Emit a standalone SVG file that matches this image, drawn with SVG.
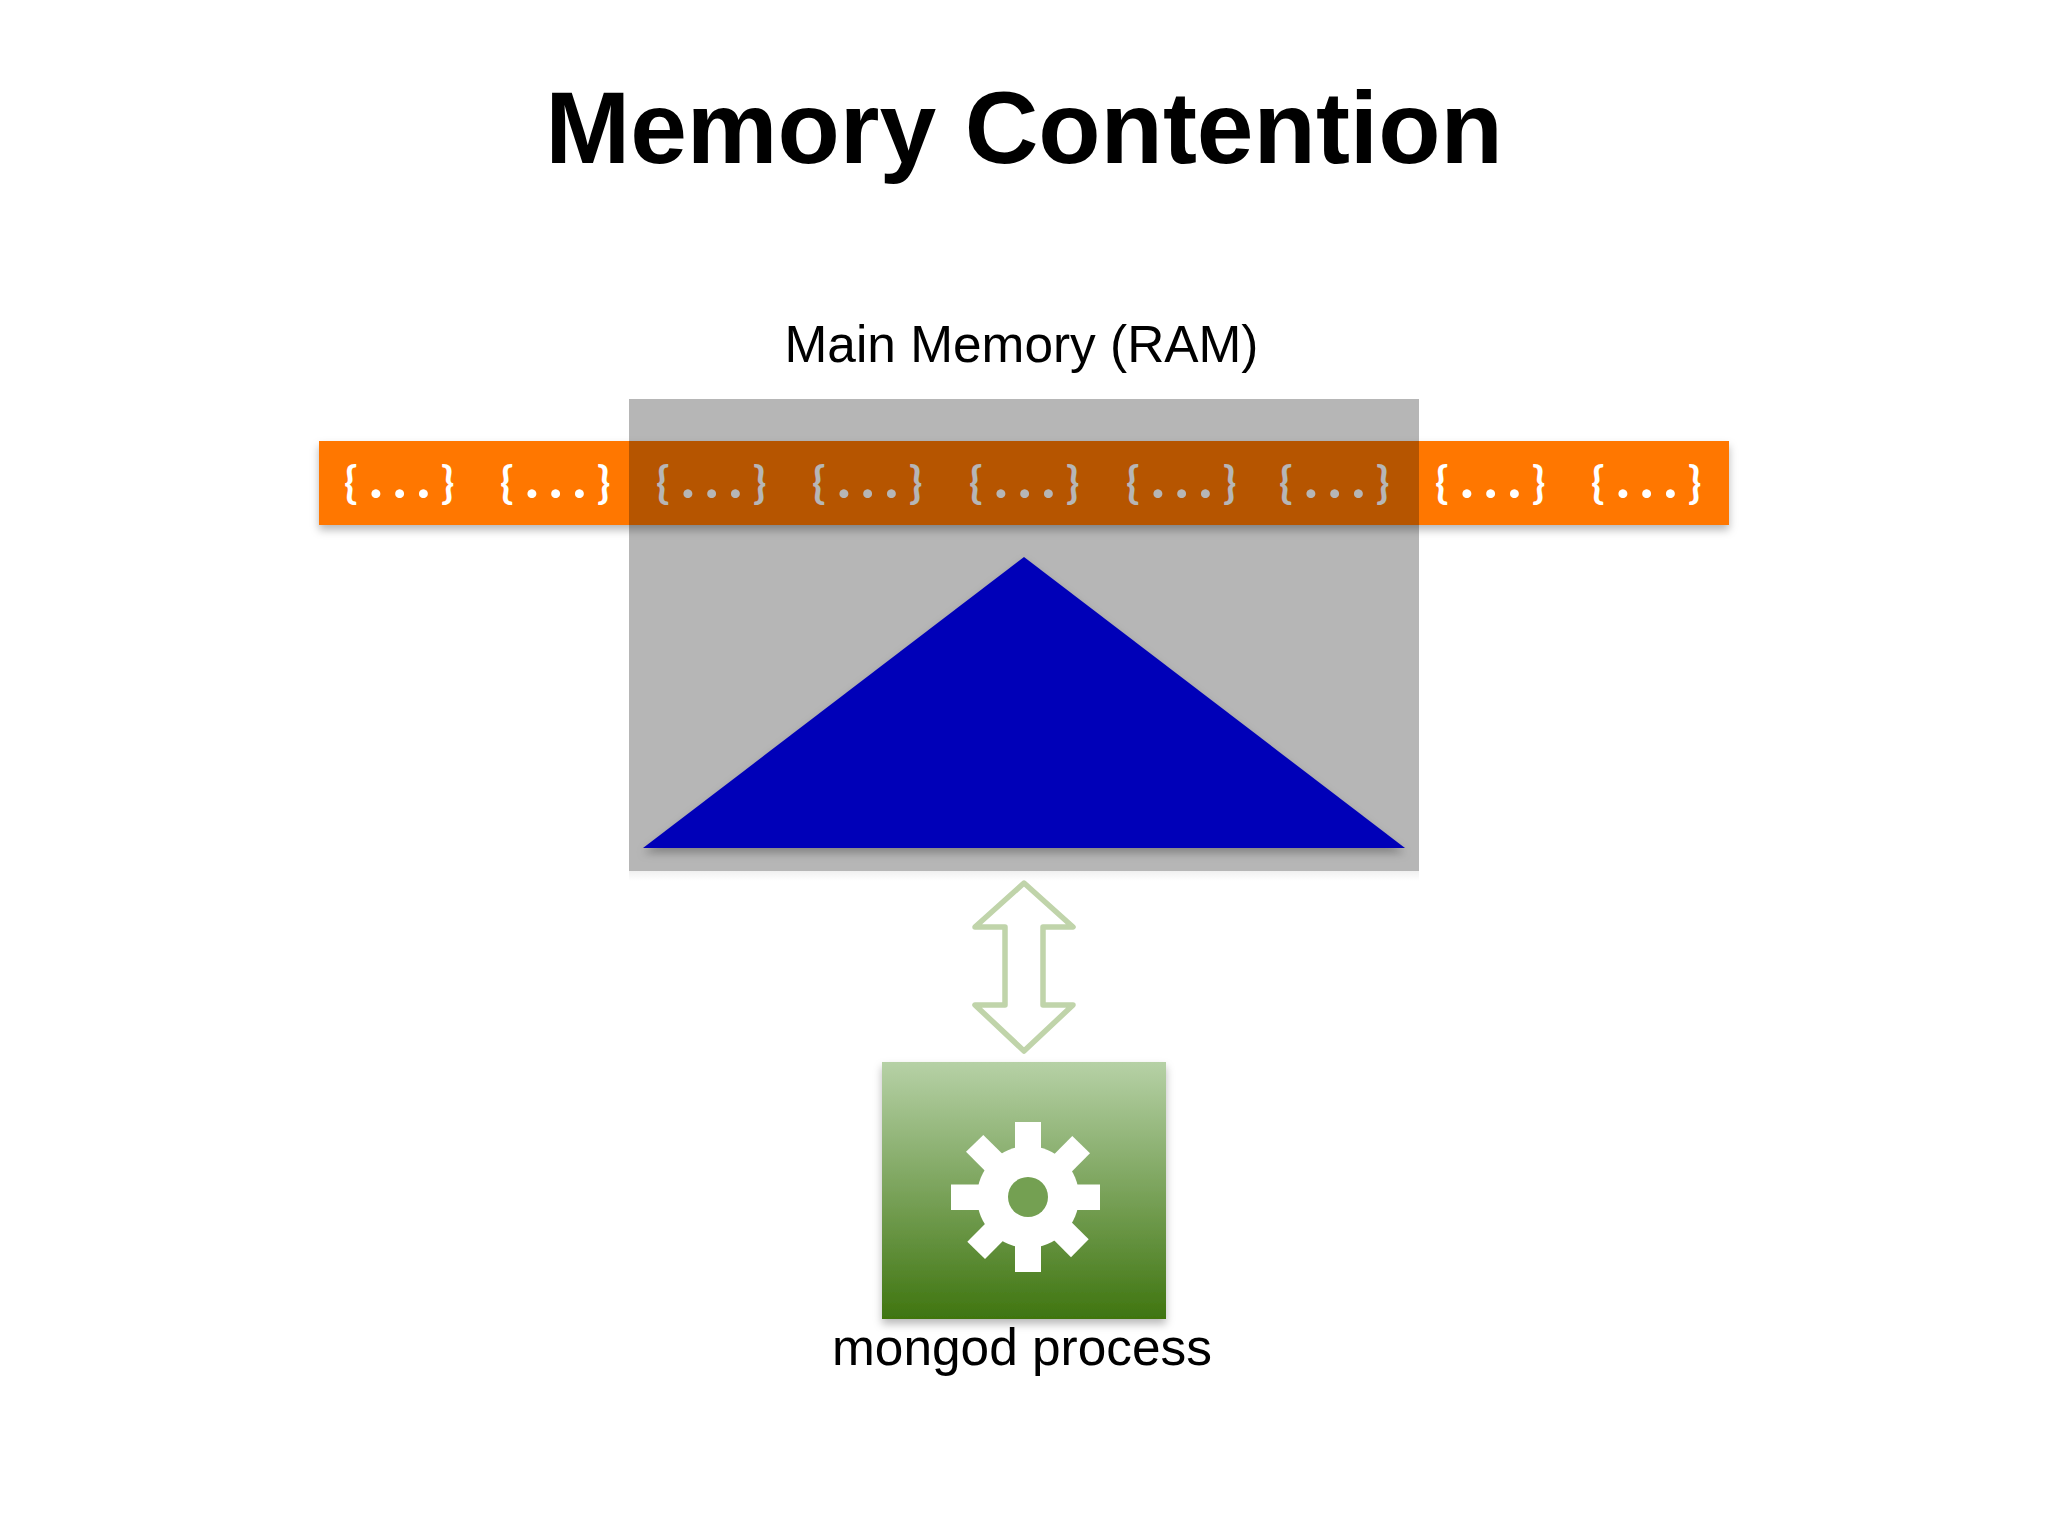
<svg xmlns="http://www.w3.org/2000/svg" width="2048" height="1536" viewBox="0 0 2048 1536">
<defs>
<linearGradient id="g" x1="0" y1="0" x2="0" y2="1"><stop offset="0" stop-color="#b6d1a6"/><stop offset="1" stop-color="#3f7510"/></linearGradient>
<linearGradient id="s" x1="0" y1="0" x2="0" y2="1"><stop offset="0" stop-color="#000" stop-opacity="0.06"/><stop offset="1" stop-color="#000" stop-opacity="0"/></linearGradient>
<filter id="sh" x="-5%" y="-10%" width="110%" height="140%"><feDropShadow dx="0" dy="5" stdDeviation="4" flood-color="#000" flood-opacity="0.28"/></filter>
</defs>
<style>
text{font-family:"Liberation Sans",Arial,sans-serif;fill:#000}
.l{font-size:51.4px;text-anchor:middle}
.d{font-family:Lato,sans-serif;font-size:44px;font-weight:700;fill:#fff}
.d .p{font-size:58px;letter-spacing:10px}
</style>
<rect width="2048" height="1536" fill="#fff"/>
<text x="1024" y="163" text-anchor="middle" font-size="102" style="font-weight:700">Memory Contention</text>
<g id="documents">
<rect x="319" y="441" width="1410" height="84" fill="#ff7700" filter="url(#sh)"/>
<g class="dd">
<text class="d" transform="translate(344 498)">{<tspan class="p" x="25">...</tspan><tspan x="97">}</tspan></text>
<text class="d" transform="translate(500 498)">{<tspan class="p" x="25">...</tspan><tspan x="97">}</tspan></text>
<text class="d" transform="translate(656 498)">{<tspan class="p" x="25">...</tspan><tspan x="97">}</tspan></text>
<text class="d" transform="translate(812 498)">{<tspan class="p" x="25">...</tspan><tspan x="97">}</tspan></text>
<text class="d" transform="translate(969 498)">{<tspan class="p" x="25">...</tspan><tspan x="97">}</tspan></text>
<text class="d" transform="translate(1126 498)">{<tspan class="p" x="25">...</tspan><tspan x="97">}</tspan></text>
<text class="d" transform="translate(1279 498)">{<tspan class="p" x="25">...</tspan><tspan x="97">}</tspan></text>
<text class="d" transform="translate(1435 498)">{<tspan class="p" x="25">...</tspan><tspan x="97">}</tspan></text>
<text class="d" transform="translate(1591 498)">{<tspan class="p" x="25">...</tspan><tspan x="97">}</tspan></text>
</g>
</g>
<g id="ram">
<rect x="629" y="399" width="790" height="472" fill="#000" fill-opacity="0.285"/>
<rect x="629" y="871" width="790" height="10" fill="url(#s)"/>
<text class="l" x="1021.5" y="362">Main Memory (RAM)</text>
<polygon points="1024,557 1405,848 643,848" fill="#0000b8" filter="url(#sh)"/>
</g>
<g id="connectors">
<path d="M1024 883 L1073 927 H1043 V1005 H1073 L1024 1051 L975 1005 H1005 V927 H975 Z" fill="#fff" stroke="#c0d4aa" stroke-width="5.5" stroke-linejoin="round"/>
</g>
<g id="mongod">
<rect x="882" y="1062" width="284" height="257" fill="url(#g)" filter="url(#sh)"/>
<g fill="#fff">
<circle cx="1028" cy="1197" r="51"/>
<rect x="1015" y="1122" width="26" height="150"/>
<rect x="951" y="1184.5" width="149" height="25.5"/>
<polygon points="966,1151.7 983.3,1135 1088.7,1239.3 1071,1257.3"/>
<polygon points="1072.3,1136 1090,1153.3 985,1259 967.3,1241.7"/>
<circle cx="1028" cy="1197" r="20" fill="#74a052"/>
</g>
<text class="l" x="1022" y="1365">mongod process</text>
</g>
</svg>
